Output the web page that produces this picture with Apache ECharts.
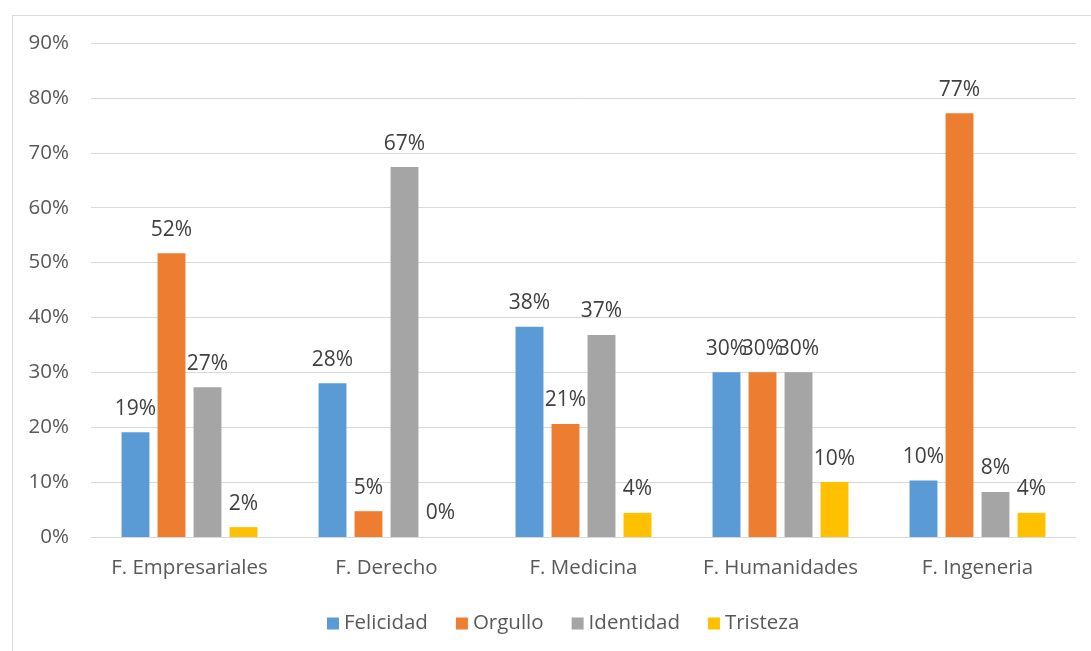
<!DOCTYPE html>
<html><head><meta charset="utf-8">
<script src="https://cdn.jsdelivr.net/npm/echarts@6/dist/echarts.min.js"></script>
<style>html,body{margin:0;padding:0;background:#fff}#c{width:1091px;height:651px}</style>
</head><body><div id="c"></div>
<script>
var categories = ['F. Empresariales', 'F. Derecho', 'F. Medicina', 'F. Humanidades', 'F. Ingeneria'];
var felicidad = [0.191, 0.280, 0.383, 0.300, 0.103];
var orgullo   = [0.517, 0.047, 0.206, 0.300, 0.772];
var identidad = [0.273, 0.674, 0.368, 0.300, 0.082];
var tristeza  = [0.018, 0.000, 0.044, 0.100, 0.044];
var seriesNames = ['Felicidad', 'Orgullo', 'Identidad', 'Tristeza'];
var colors = ['#5B9BD5', '#ED7D31', '#A5A5A5', '#FFC000'];
var yTicks = [0, 0.1, 0.2, 0.3, 0.4, 0.5, 0.6, 0.7, 0.8, 0.9];

var font = '"Open Sans", sans-serif';
var chart = echarts.init(document.getElementById('c'));
var data = [felicidad, orgullo, identidad, tristeza];
chart.setOption({
  animation: false,
  color: colors,
  graphic: [{type: 'rect', left: 10, top: 13, shape: {width: 1100, height: 700},
    style: {fill: 'none', stroke: '#d9d9d9', lineWidth: 1}, z: -1}],
  grid: {left: 91, right: 15, top: 43, bottom: 114},
  legend: {
    bottom: 12, left: 322, itemWidth: 12, itemHeight: 12, itemGap: 28,
    icon: 'rect',
    textStyle: {color: '#595959', fontSize: 20.5, fontFamily: font},
    data: seriesNames
  },
  xAxis: {
    type: 'category', data: categories,
    axisLine: {lineStyle: {color: '#d9d9d9', width: 1}},
    axisTick: {show: false},
    axisLabel: {color: '#595959', fontSize: 20.5, fontFamily: font, margin: 21, interval: 0}
  },
  yAxis: {
    type: 'value', min: 0, max: yTicks[yTicks.length - 1], interval: 0.1,
    axisLine: {show: false}, axisTick: {show: false},
    splitLine: {lineStyle: {color: '#d9d9d9', width: 1}},
    axisLabel: {color: '#595959', fontSize: 20.5, fontFamily: font, margin: 22,
      formatter: function (v) { return Math.round(v * 100) + '%'; }}
  },
  series: seriesNames.map(function (n, i) {
    return {
      name: n, type: 'bar', data: data[i],
      barGap: '29%', barCategoryGap: '31%',
      label: {show: true, position: 'top', distance: 13, color: '#404040',
        fontSize: 21, fontFamily: font,
        formatter: function (p) { return Math.round(p.value * 100) + '%'; }}
    };
  })
});
</script></body></html>
